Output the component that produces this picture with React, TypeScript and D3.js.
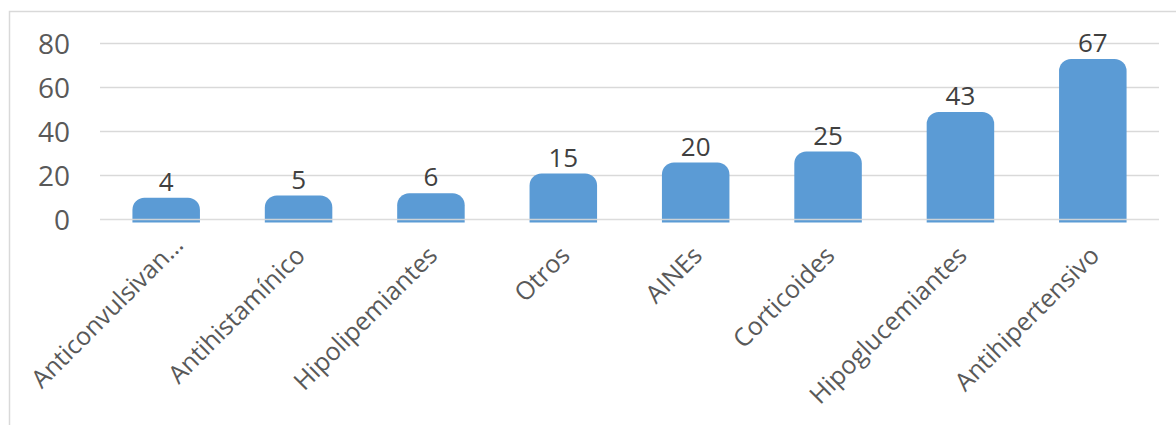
import React from "react";
import * as d3 from "d3";

const categories = [
  "Anticonvulsivan…",
  "Antihistamínico",
  "Hipolipemiantes",
  "Otros",
  "AINEs",
  "Corticoides",
  "Hipoglucemiantes",
  "Antihipertensivo",
];
const values = [4, 5, 6, 15, 20, 25, 43, 67];
const yTicks = [0, 20, 40, 60, 80];

const W = 1176;
const H = 425;
const FONT = "'Open Sans', 'Noto Sans', sans-serif";

export default function App() {
  const x = d3
    .scaleBand<string>()
    .domain(categories)
    .range([100, 1159])
    .paddingInner(0.49)
    .paddingOuter(0.245);
  const y = d3.scaleLinear().domain([0, 80]).range([219.5, 43.5]);
  const cap = 13; // rounded cap above value
  const r = 12;

  const barPath = (v: number, cat: string) => {
    const x0 = x(cat)!;
    const x1 = x0 + x.bandwidth();
    const top = y(v) - cap;
    const bottom = y(0) + 3;
    const p = d3.path();
    p.moveTo(x0, bottom);
    p.lineTo(x0, top + r);
    p.arcTo(x0, top, x0 + r, top, r);
    p.lineTo(x1 - r, top);
    p.arcTo(x1, top, x1, top + r, r);
    p.lineTo(x1, bottom);
    p.closePath();
    return p.toString();
  };

  return (
    <svg
      width={W}
      height={H}
      style={{ position: "absolute", left: 0, top: 0, background: "#fff" }}
    >
      <rect x={9.5} y={11.5} width={1200} height={450} fill="#fff" stroke="#D9D9D9" strokeWidth={1.5} />
      {yTicks.map((t) => (
        <g key={t}>
          {t !== 0 && (
            <line x1={100} x2={1159} y1={y(t)} y2={y(t)} stroke="#D9D9D9" strokeWidth={1.3} />
          )}
          <text
            x={70}
            y={y(t)}
            dy="0.36em"
            textAnchor="end"
            fontFamily={FONT}
            fontSize={28}
            fill="#595959"
          >
            {t}
          </text>
        </g>
      ))}
      {values.map((v, i) => (
        <path key={i} d={barPath(v, categories[i])} fill="#5B9BD5" />
      ))}
      <line x1={100} x2={1159} y1={y(0)} y2={y(0)} stroke="#D9D9D9" strokeWidth={1.3} opacity={0.9} />
      {values.map((v, i) => (
        <text
          key={i}
          x={x(categories[i])! + x.bandwidth() / 2}
          y={y(v) - cap - 7}
          textAnchor="middle"
          fontFamily={FONT}
          fontSize={26}
          fill="#404040"
        >
          {v}
        </text>
      ))}
      {categories.map((c) => {
        const cx = x(c)! + x.bandwidth() / 2;
        const truncated = c.endsWith("…");
        return (
          <text
            key={c}
            transform={`translate(${cx + 8},${257}) rotate(-45)`}
            dx={truncated ? 15 : 0}
            textAnchor="end"
            fontFamily={FONT}
            fontSize={25}
            fill="#595959"
          >
            {c}
          </text>
        );
      })}
    </svg>
  );
}
